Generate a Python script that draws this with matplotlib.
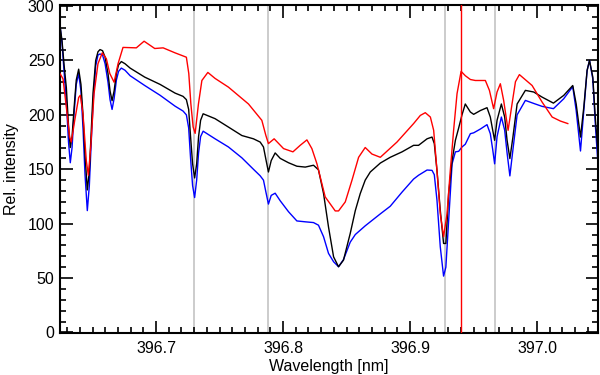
import numpy as np
import matplotlib
matplotlib.use("Agg")
import matplotlib.pyplot as plt
from matplotlib.ticker import MultipleLocator

plt.rcParams['font.family'] = ['Liberation Sans', 'DejaVu Sans']

# wavelength grid shared by the black and blue profiles [nm]
wl = [396.6244, 396.6260, 396.6276, 396.6294, 396.6311, 396.6325, 396.6339, 396.6354,
      396.6372, 396.6391, 396.6409, 396.6425, 396.6441, 396.6459, 396.6475, 396.6488,
      396.6504, 396.6525, 396.6543, 396.6559, 396.6579, 396.6599, 396.6622, 396.6638,
      396.6654, 396.6670, 396.6688, 396.6705, 396.6727, 396.6756, 396.6796, 396.6911,
      396.7032, 396.7150, 396.7213, 396.7239, 396.7257, 396.7272, 396.7288, 396.7304,
      396.7320, 396.7335, 396.7351, 396.7371, 396.7465, 396.7570, 396.7676, 396.7767,
      396.7820, 396.7846, 396.7867, 396.7885, 396.7907, 396.7938, 396.7978, 396.8043,
      396.8109, 396.8175, 396.8240, 396.8279, 396.8319, 396.8358, 396.8398, 396.8437,
      396.8476, 396.8529, 396.8569, 396.8608, 396.8647, 396.8687, 396.8766, 396.8844,
      396.8937, 396.9028, 396.9067, 396.9134, 396.9173, 396.9191, 396.9212, 396.9238,
      396.9264, 396.9282, 396.9304, 396.9331, 396.9357, 396.9383, 396.9409, 396.9435,
      396.9475, 396.9501, 396.9554, 396.9606, 396.9632, 396.9651, 396.9666, 396.9685,
      396.9719, 396.9745, 396.9764, 396.9786, 396.9810, 396.9843, 396.9908, 396.9974,
      397.0040, 397.0129, 397.0210, 397.0281, 397.0308, 397.0342, 397.0368, 397.0394,
      397.0413, 397.0439, 397.0460, 397.0483]

black = [282, 268, 246, 225, 190, 170, 180, 205,
         232, 242, 228, 200, 163, 131, 148, 180,
         220, 250, 258, 260, 259, 253, 238, 222,
         213, 222, 238, 246, 249, 247, 243, 234.7,
         228, 220, 217, 214, 205, 180, 155, 142,
         155, 180, 195, 201, 196.5, 188.8, 181, 178,
         175, 170.5, 158, 147.5, 158, 165, 160, 156,
         152.8, 152, 153.7, 149.5, 127.7, 97, 69.5, 60.4,
         66.5, 91, 112, 127.7, 140, 147.5, 155.7, 161,
         166, 172, 172, 178, 179.6, 173.6, 149, 112.4,
         81.8, 81.8, 127.7, 158, 176.6, 188, 200, 210,
         202.6, 200.5, 204, 206.6, 198, 185.8, 176.6, 195,
         210, 198, 176.6, 159.8, 179.6, 210, 222.5, 221,
         216.3, 210.8, 217.9, 227, 210, 179.6, 207, 240.8,
         250, 234.7, 195, 161]

blue = [282, 266, 240, 212, 175, 156, 170, 200,
        228, 238, 222, 188, 145, 112, 135, 170,
        210, 245, 255, 256, 255, 247, 230, 214,
        205, 215, 232, 240, 243, 241, 236, 227,
        218, 208, 203.5, 200, 188, 160, 135, 124,
        140, 165, 180, 185, 178, 170.5, 160.5, 150,
        144, 140, 128, 118, 126, 128, 121, 111,
        102.5, 101.7, 101, 98.6, 88, 72.7, 65, 60.4,
        67, 83, 90, 94, 98, 101.7, 109, 116,
        129, 141, 144.5, 149.3, 149, 145, 121.6, 78.7,
        51.8, 60, 103, 155, 166, 166.5, 170.5, 173,
        182.7, 183.5, 187, 191, 182.7, 168, 155, 180,
        198, 186, 165, 143.9, 168, 200, 213.3, 210.5,
        207.8, 205.7, 214.8, 226, 204, 166.8, 204, 240.8,
        250, 233, 188.8, 149]

# red profile has its own grid and stops short of the right edge
wl_red = [396.6244, 396.6268, 396.6294, 396.6320, 396.6333, 396.6360, 396.6391, 396.6404,
          396.6425, 396.6451, 396.6467, 396.6486, 396.6512, 396.6543, 396.6577, 396.6609,
          396.6636, 396.6670, 396.6701, 396.6740, 396.6845, 396.6906, 396.6990, 396.7056,
          396.7150, 396.7239, 396.7258, 396.7274, 396.7292, 396.7308, 396.7334, 396.7361,
          396.7408, 396.7465, 396.7570, 396.7728, 396.7833, 396.7865, 396.7885, 396.7930,
          396.8004, 396.8078, 396.8135, 396.8188, 396.8227, 396.8267, 396.8332, 396.8411,
          396.8437, 396.8490, 396.8543, 396.8595, 396.8647, 396.8700, 396.8766, 396.8897,
          396.9028, 396.9081, 396.9120, 396.9160, 396.9186, 396.9212, 396.9238, 396.9264,
          396.9291, 396.9317, 396.9343, 396.9370, 396.9402, 396.9435, 396.9475, 396.9514,
          396.9593, 396.9625, 396.9658, 396.9685, 396.9711, 396.9737, 396.9772, 396.9803,
          396.9830, 396.9861, 396.9961, 397.0040, 397.0119, 397.0184, 397.0242]

red = [238, 233, 207, 179.6, 175, 195, 216, 218,
       201, 158, 144.5, 170.5, 219.5, 247, 257, 251.6,
       238, 230, 247, 262, 261.6, 267.7, 261, 261.6,
       257, 253, 238, 210.5, 189, 183, 210, 231.6,
       239, 233.5, 225.5, 210, 195, 181, 173.6, 178,
       169, 166, 172, 177, 169, 155, 124.6, 111.7,
       111.7, 120, 140, 161, 170, 164, 161, 175,
       192, 199.5, 202, 198, 185.8, 149, 109, 88,
       109, 149, 185.8, 219.5, 240, 236, 232.5, 231.6,
       231.6, 222.5, 205.7, 221, 228.6, 213.3, 185.8, 210,
       230.5, 237, 227, 211.7, 198, 194.3, 192]

gray_lines = [396.7299, 396.7885, 396.9272, 396.9665]
red_line = 396.9401

fig = plt.figure(figsize=(6, 3.75), dpi=100)
ax = fig.add_axes([0.1, 0.112, 0.8967, 0.8747])

for g in gray_lines:
    ax.axvline(g, color='#c8c8c8', lw=1.3, zorder=1)

ax.plot(wl, blue, color='blue', lw=1.0, zorder=2)
ax.plot(wl, black, color='black', lw=1.0, zorder=3)
ax.plot(wl_red, red, color='red', lw=1.0, zorder=4)
ax.axvline(red_line, color='red', lw=1.0, zorder=5)

ax.set_xlim(396.6244, 397.048)
ax.set_ylim(-0.5, 301)

ax.xaxis.set_major_locator(MultipleLocator(0.1))
ax.xaxis.set_minor_locator(MultipleLocator(0.01))
ax.yaxis.set_major_locator(MultipleLocator(50))
ax.yaxis.set_minor_locator(MultipleLocator(10))
ax.xaxis.set_major_formatter(plt.FuncFormatter(lambda v, p: f"{v:.1f}"))

ax.tick_params(which='both', direction='in', top=True, right=True, labelsize=11.5, width=1.2)
ax.tick_params(which='major', length=9)
ax.tick_params(axis='x', which='major', pad=6)
ax.tick_params(axis='y', which='major', pad=4)
ax.tick_params(which='minor', length=4.5)
for s in ax.spines.values():
    s.set_linewidth(1.5)

ax.set_xlabel("Wavelength [nm]", fontsize=11.5, labelpad=2)
ax.set_ylabel("Rel. intensity", fontsize=11.5, labelpad=6)

fig.savefig("out.png", dpi=100)
